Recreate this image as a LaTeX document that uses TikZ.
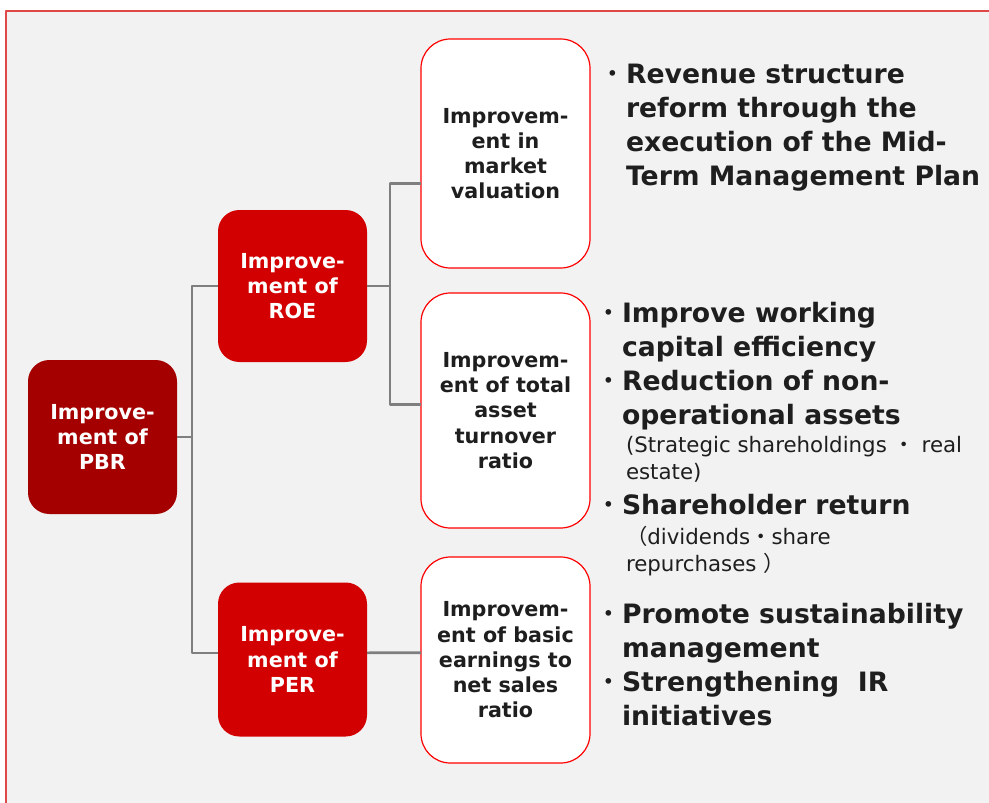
\documentclass[tikz,border=0pt]{standalone}
\usepackage{fontspec}
\setmainfont{DejaVu Sans}
\newfontfamily\cjk{Noto Sans CJK JP}
\usepackage{xcolor}
\usetikzlibrary{positioning}
\definecolor{framered}{HTML}{E04848}
\definecolor{panel}{HTML}{F2F2F2}
\definecolor{darkred}{HTML}{A50000}
\definecolor{brightred}{HTML}{D20000}
\definecolor{linkgray}{HTML}{7F7F7F}
\definecolor{ink}{HTML}{1E1E1E}
\newcommand{\dotitem}{\llap{\cjk\mdseries ・}}

\begin{document}
\begin{tikzpicture}[x=0.75pt,y=-0.75pt,line join=round,
  every node/.style={inner sep=0pt,outer sep=0pt},
  box/.style={rounded corners=16pt,align=center,font=\bfseries\fontsize{15.5}{18.9}\selectfont},
  rootbox/.style={box,fill=darkred,text=white,minimum width=111.75pt,minimum height=115.5pt},
  ratiobox/.style={box,fill=brightred,text=white,minimum width=111.75pt,minimum height=114pt},
  driverbox/.style={box,rounded corners=22pt,fill=white,draw=red,line width=0.9pt,text=ink,minimum width=126.75pt},
  measure/.style={anchor=west,align=left,text=ink,font=\bfseries\fontsize{20}{25.5}\selectfont},
  note/.style={anchor=west,align=left,text=ink,font=\fontsize{16}{20.5}\selectfont},
  link/.style={draw=linkgray,line width=2pt}]

  \useasboundingbox (0,0) rectangle (989,803);
  \draw[draw=framered,fill=panel,line width=0.8pt] (6,11) rectangle (1000,815);

  % tree of drivers
  \node[rootbox] (pbr) at (102.5,437) {Improve-\\ment of\\PBR};
  \node[ratiobox] (roe) at (292.5,286) {Improve-\\ment of\\ROE};
  \node[ratiobox,minimum height=115.5pt] (per) at (292.5,659.5) {Improve-\\ment of\\PER};
  \node[driverbox,minimum height=171.75pt] (mkt) at (505.5,153.5) {Improvem-\\ent in\\market\\valuation};
  \node[driverbox,minimum height=176.25pt] (tat) at (505.5,410.5) {Improvem-\\ent of total\\asset\\turnover\\ratio};
  \node[driverbox,minimum height=154.5pt] (bep) at (505.5,660) {Improvem-\\ent of basic\\earnings to\\net sales\\ratio};

  \draw[link] (pbr.east) -- ++(15,0) coordinate (pbrfork);
  \draw[link] (roe.west) -| (pbrfork) |- ([yshift=5pt]per.west);
  \draw[link] (roe.east) -- ++(23,0) coordinate (roefork);
  \draw[link] ([yshift=-22.5pt]mkt.west) -| (roefork) |- ([yshift=4.5pt]tat.west);
  \draw[link] ([yshift=5pt]per.east) -- ([yshift=5.5pt]bep.west);

  % measures
  \node[measure] (mktplan) at (626,127.5) {\dotitem Revenue structure\\reform through the\\execution of the Mid-\\Term Management Plan};
  \node[measure] (tatwork) at (622,366.5) {\dotitem Improve working\\capital efficiency\\\dotitem Reduction of non-\\operational assets};
  \node[note] (tatnote) at (626,459.5) {(Strategic shareholdings {\cjk ・} real\\estate)};
  \node[measure] (tatret) at (622,505) {\dotitem Shareholder return};
  \node[note] (tatretnote) at (626,551) {{\cjk （}dividends{\cjk ・}share\\repurchases {\cjk ）}};
  \node[measure] (bepesg) at (622,664.5) {\dotitem Promote sustainability\\management\\\dotitem Strengthening\ \ IR\\initiatives};
\end{tikzpicture}
\end{document}
